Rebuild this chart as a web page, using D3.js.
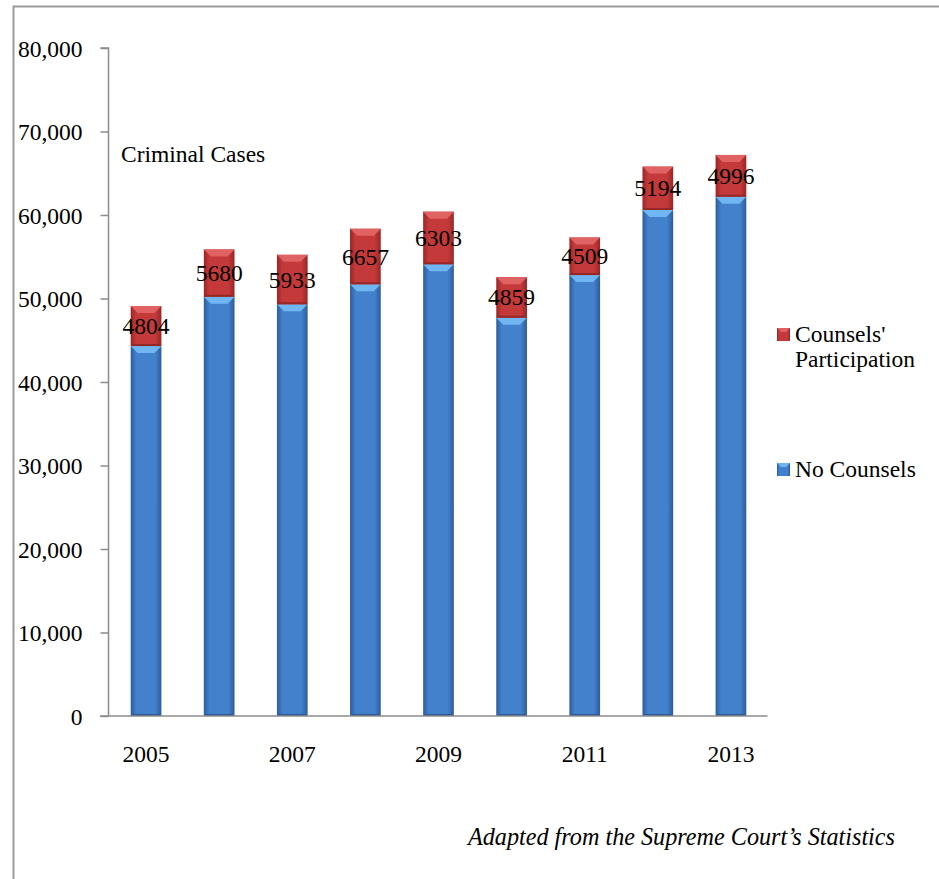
<!DOCTYPE html>
<html>
<head>
<meta charset="utf-8">
<script src="https://cdn.jsdelivr.net/npm/d3@7"></script>
<style>
  html, body { margin: 0; padding: 0; background: #fff; }
  svg { display: block; }
</style>
</head>
<body>
<svg id="chart" width="939" height="879"></svg>
<script>
// Criminal cases per year, split by whether counsel took part
const years = ["2005", "2006", "2007", "2008", "2009", "2010", "2011", "2012", "2013"];
const noCounsels = [44300, 50200, 49300, 51700, 54100, 47700, 52800, 60600, 62200];
const counselsParticipation = [4804, 5680, 5933, 6657, 6303, 4859, 4509, 5194, 4996];
const yTickValues = [0, 10000, 20000, 30000, 40000, 50000, 60000, 70000, 80000];
const xTickLabels = ["2005", "2007", "2009", "2011", "2013"];
const seriesNames = ["Counsels' Participation", "No Counsels"];

const svg = d3.select("#chart");
const FONT = 23.5;
const FAMILY = "Liberation Serif, Times New Roman, serif";

// outer frame (open at the right and bottom edges of the page)
svg.append("path")
  .attr("d", "M13.5,879 L13.5,6.5 L939,6.5")
  .attr("fill", "none")
  .attr("stroke", "#9a9a9a")
  .attr("stroke-width", 2);

const x = d3.scaleBand().domain(years).range([109.5, 767.5])
  .paddingInner(0.58).paddingOuter(0.29);
const y = d3.scaleLinear().domain([0, 80000]).range([716, 48]);

// gradients for the bevelled bars
const defs = svg.append("defs");
function hGrad(id, edge, mid) {
  const g = defs.append("linearGradient").attr("id", id)
    .attr("x1", "0").attr("x2", "1").attr("y1", "0").attr("y2", "0");
  g.append("stop").attr("offset", "0%").attr("stop-color", edge);
  g.append("stop").attr("offset", "18%").attr("stop-color", mid);
  g.append("stop").attr("offset", "80%").attr("stop-color", mid);
  g.append("stop").attr("offset", "100%").attr("stop-color", edge);
}
hGrad("gBlue", "#2d5c9b", "#4381cc");
hGrad("gRed", "#9b2526", "#c43a3a");

const styles = {
  blue: { fill: "url(#gBlue)", top: "#6fb6f2", bottom: "#2e5a94" },
  red:  { fill: "url(#gRed)",  top: "#e06262", bottom: "#962727" }
};

const stack = years.map((yr, i) => ({
  year: yr,
  no: noCounsels[i],
  part: counselsParticipation[i]
}));

function bevelBar(g, x0, w, v0, v1, st) {
  const yTop = y(v1), yBot = y(v0), h = yBot - yTop;
  const bev = Math.min(7, h / 3);
  g.append("rect").attr("x", x0).attr("y", yTop).attr("width", w).attr("height", h)
    .attr("fill", st.fill);
  // lighter top facet
  g.append("path")
    .attr("d", `M${x0},${yTop} L${x0 + w},${yTop} L${x0 + w - bev},${yTop + bev} L${x0 + bev},${yTop + bev} Z`)
    .attr("fill", st.top);
  // darker bottom facet
  g.append("path")
    .attr("d", `M${x0},${yBot} L${x0 + w},${yBot} L${x0 + w - 2},${yBot - 2} L${x0 + 2},${yBot - 2} Z`)
    .attr("fill", st.bottom);
}

const bars = svg.append("g");
stack.forEach(d => {
  const x0 = x(d.year), w = x.bandwidth();
  const g = bars.append("g");
  bevelBar(g, x0, w, 0, d.no, styles.blue);
  bevelBar(g, x0, w, d.no, d.no + d.part, styles.red);
});

// value labels centred in the red segment
svg.append("g").selectAll("text").data(stack).join("text")
  .attr("x", d => x(d.year) + x.bandwidth() / 2)
  .attr("y", d => y(d.no + d.part / 2))
  .attr("dy", "0.34em")
  .attr("text-anchor", "middle")
  .attr("font-family", FAMILY)
  .attr("font-size", FONT)
  .attr("fill", "#000")
  .text(d => d.part);

// y axis
const yAxis = d3.axisLeft(y).tickValues(yTickValues).tickSize(8).tickPadding(18)
  .tickFormat(d3.format(","));
const gy = svg.append("g").attr("transform", "translate(108.5,0)").call(yAxis);
gy.select(".domain").attr("stroke", "#8c8c8c").attr("stroke-width", 1.5)
  .attr("d", `M-8,${y(80000)}H0V${y(0)}`);
gy.selectAll(".tick line").attr("stroke", "#8c8c8c").attr("stroke-width", 1.5);
gy.selectAll(".tick text").attr("font-size", FONT).attr("fill", "#000")
  .attr("font-family", FAMILY).attr("dy", "0.34em");

// x axis: only every other year is labelled
const xAxis = d3.axisBottom(x).tickValues(xTickLabels).tickSize(0).tickPadding(29);
const gx = svg.append("g").attr("transform", `translate(0,${y(0)})`).call(xAxis);
gx.select(".domain").attr("stroke", "#8c8c8c").attr("stroke-width", 1.5)
  .attr("d", "M100,0H767.5");
gx.selectAll(".tick text").attr("font-size", FONT).attr("fill", "#000")
  .attr("font-family", FAMILY);

// in-plot title
svg.append("text").attr("x", 121).attr("y", 162)
  .attr("font-family", FAMILY)
  .attr("font-size", FONT).attr("fill", "#000").text("Criminal Cases");

// legend
const legend = svg.append("g");
const legendItems = [
  { name: seriesNames[0], st: styles.red, y: 328, lines: ["Counsels'", "Participation"] },
  { name: seriesNames[1], st: styles.blue, y: 463, lines: ["No Counsels"] }
];
legendItems.forEach(item => {
  const g = legend.append("g");
  g.append("rect").attr("x", 777).attr("y", item.y).attr("width", 13).attr("height", 13)
    .attr("fill", item.st.fill);
  g.append("path")
    .attr("d", `M777,${item.y} L790,${item.y} L786,${item.y + 4} L781,${item.y + 4} Z`)
    .attr("fill", item.st.top);
  const t = g.append("text").attr("x", 795).attr("y", item.y + 14)
    .attr("font-family", FAMILY)
    .attr("font-size", FONT).attr("fill", "#000");
  item.lines.forEach((ln, i) => {
    t.append("tspan").attr("x", 795).attr("dy", i === 0 ? 0 : 25).text(ln);
  });
});

// source note
svg.append("text").attr("x", 895).attr("y", 845)
  .attr("text-anchor", "end").attr("font-style", "italic")
  .attr("font-family", FAMILY)
  .attr("font-size", 24.2).attr("fill", "#000")
  .text("Adapted from the Supreme Court\u2019s Statistics");
</script>
</body>
</html>
